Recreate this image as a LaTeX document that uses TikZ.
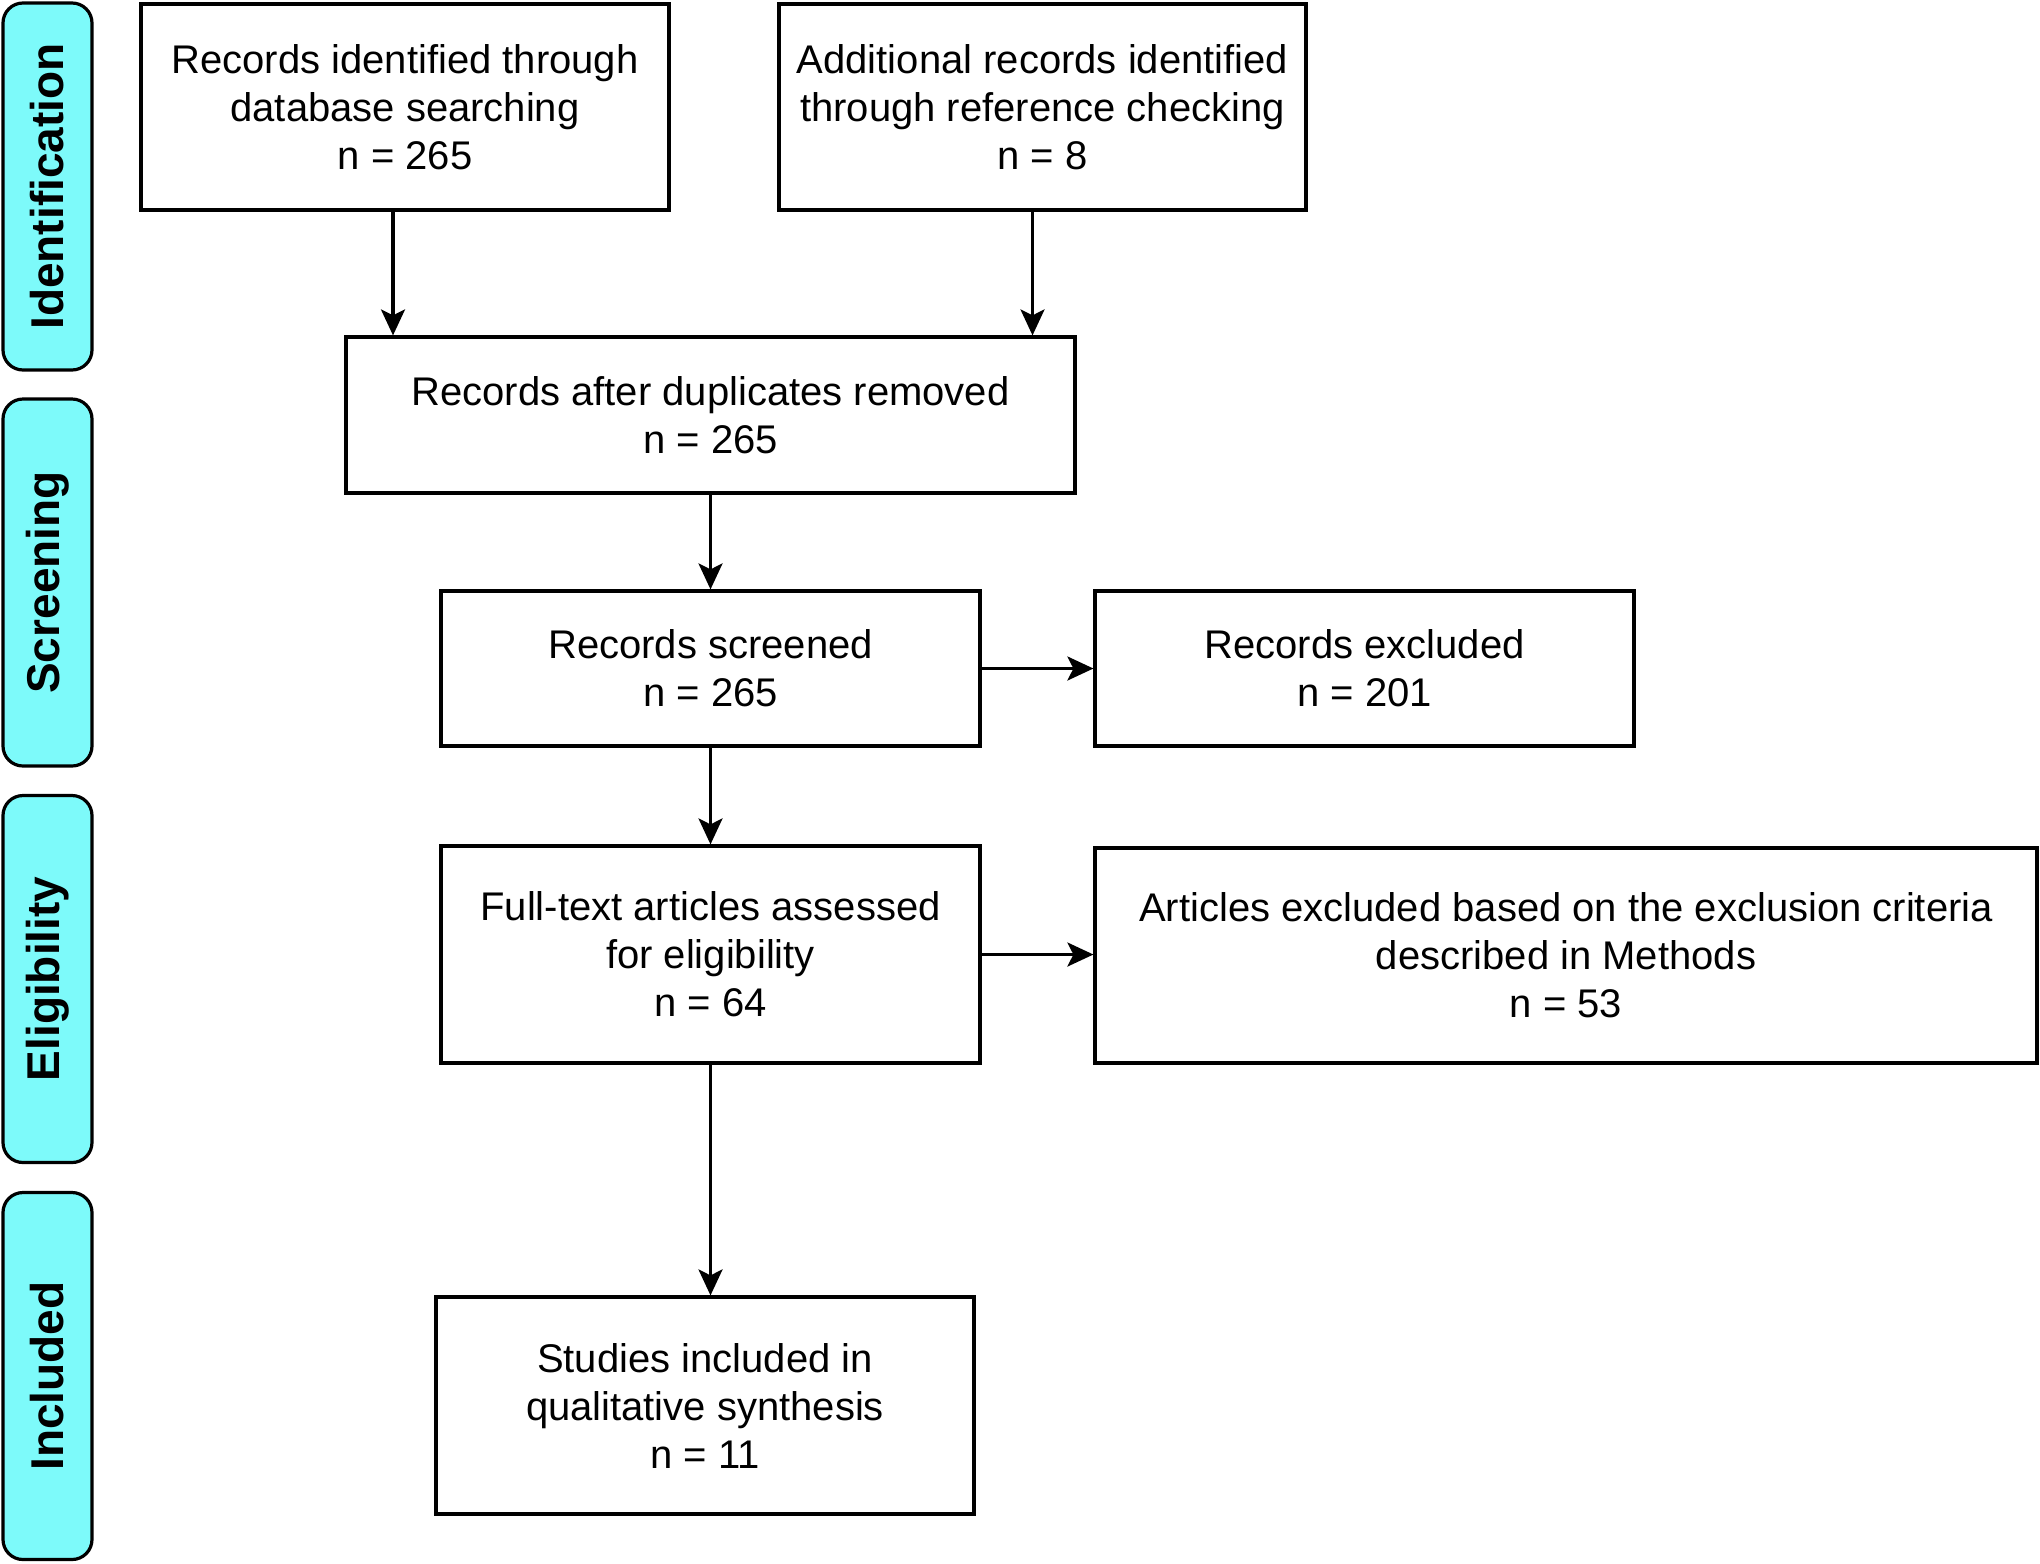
\documentclass[tikz,border=0pt]{standalone}
\usepackage{fontspec}
\setmainfont{Liberation Sans}
\usetikzlibrary{positioning}
\usetikzlibrary{calc}
\usetikzlibrary{arrows.meta}
\definecolor{phasecyan}{RGB}{125,250,250}
\tikzset{
  stage/.style = {
    draw, rounded corners = 5pt, fill = phasecyan, rotate = 90, line width = 0.8pt,
    minimum width = 91.75pt, minimum height = 22.25pt, inner sep = 0pt,
    font = \fontsize{11.5}{13}\selectfont\bfseries  }
}

\begin{document}
\begin{tikzpicture}[x=0.25pt,y=-0.25pt,
box_style/.style={draw,rectangle,line width=0.8pt,inner sep=0pt,align=center,font=\fontsize{10}{12}\selectfont},
edge_style/.style={line width=0.8pt,-{Stealth[length=6.5pt,width=6pt,inset=1.5pt]}}]
\useasboundingbox (0,0) rectangle (2040,1563);
\foreach \y/\z/\t in {186.5/id/Identification,582.5/scr/Screening,979/elig/Eligibility,1376/incl/Included}{
 \node[stage] (\z) at (47.5,\y) {\t};
}

\node[box_style,minimum width=132pt,minimum height=51.5pt] (db) at (405,107) {Records identified through\\database searching\\n = 265};
\node[box_style,minimum width=131.75pt,minimum height=51.5pt] (refs) at (1042.5,107) {Additional records identified\\through reference checking\\n = 8};
\node[box_style,minimum width=182.25pt,minimum height=39pt] (dupl) at (710.5,415) {Records after duplicates removed\\n = 265};
\node[box_style,minimum width=134.75pt,minimum height=38.75pt] (scrd) at (710.5,668.5) {Records screened\\n = 265};
\node[box_style,minimum width=134.75pt,minimum height=38.75pt] (excl) at (1364.5,668.5) {Records excluded\\n = 201};
\node[box_style,minimum width=134.75pt,minimum height=54.25pt] (full) at (710.5,954.5) {Full-text articles assessed\\for eligibility\\n = 64};
\node[box_style,minimum width=235.5pt,minimum height=53.75pt] (artx) at (1566,955.5) {Articles excluded based on the exclusion criteria\\described in Methods\\n = 53};
\node[box_style,minimum width=134.5pt,minimum height=54.25pt] (stud) at (705,1405.5) {Studies included in\\qualitative synthesis\\n = 11};

%\draw[edge_style] (db) -- (dupl);
\draw[edge_style] ([xshift=-3pt]db.south) -- ([xshift=-3pt]db.south |- dupl.north);
\draw[edge_style] ([xshift=-2.5pt]refs.south) -- ([xshift=-2.5pt]refs.south |- dupl.north);
\draw[edge_style] (dupl) -- (scrd);
\draw[edge_style] (scrd) -- (excl);
\draw[edge_style] (scrd) -- (full);
\draw[edge_style] (full.east) -- (full.east -| artx.west);
\draw[edge_style] (full.south) -- (full.south |- stud.north);
\end{tikzpicture}
\end{document}
